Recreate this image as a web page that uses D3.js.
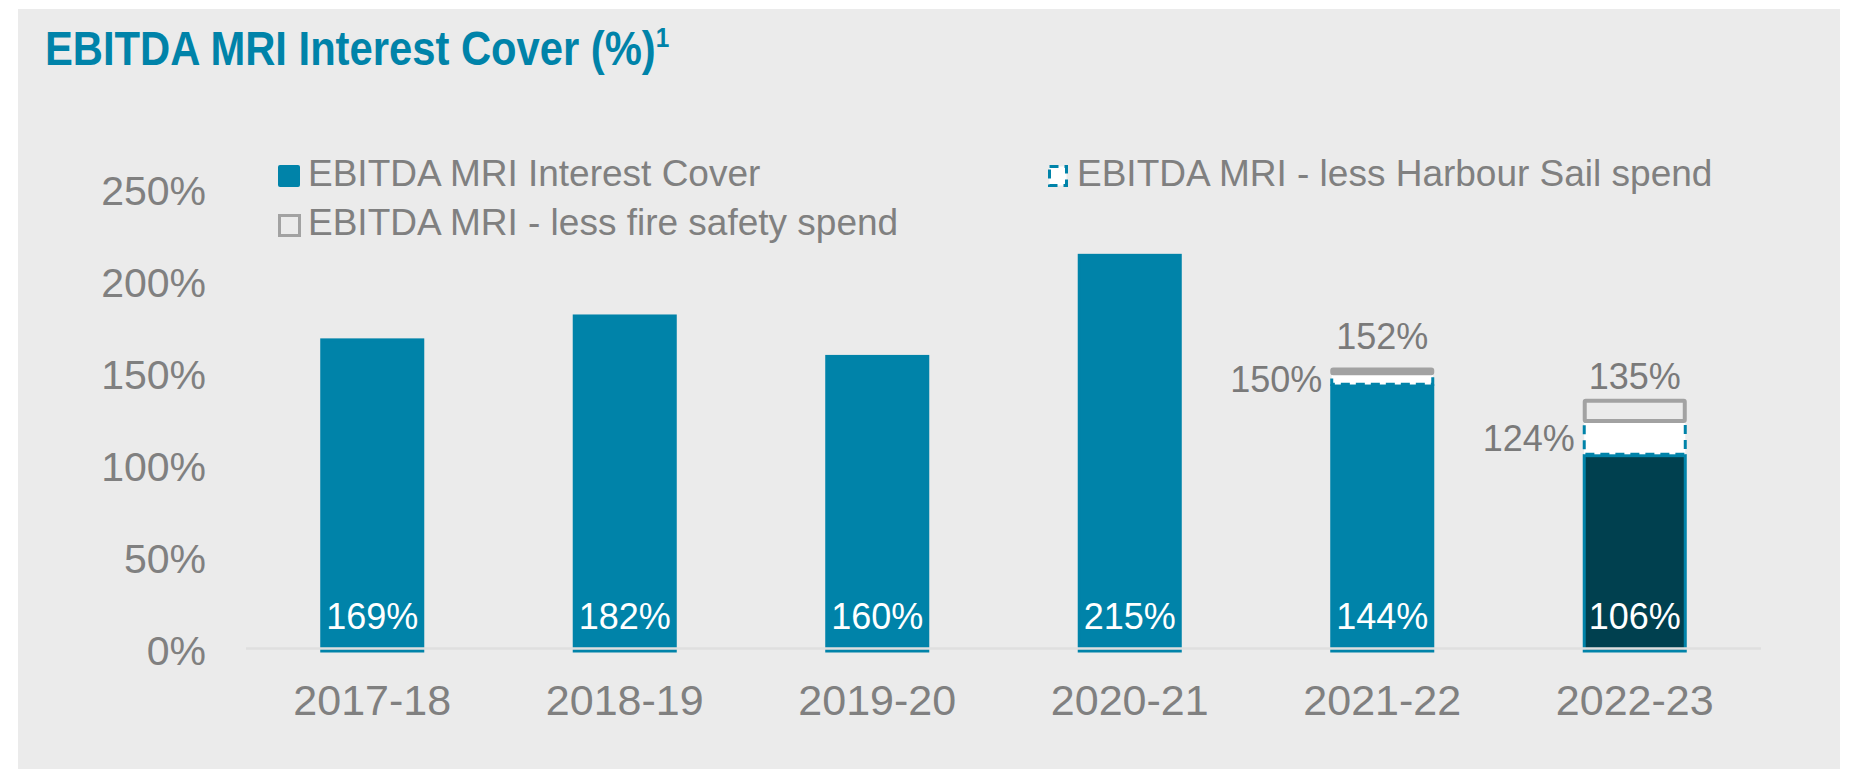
<!DOCTYPE html>
<html>
<head>
<meta charset="utf-8">
<script src="https://cdn.jsdelivr.net/npm/d3@7"></script>
<style>
  body { margin: 0; background: #fff; }
  svg { display: block; font-family: "Liberation Sans", Arial, sans-serif; }
</style>
</head>
<body>
<svg id="chart"></svg>
<script>
// values
const years = ["2017-18", "2018-19", "2019-20", "2020-21", "2021-22", "2022-23"];
const cover = [169, 182, 160, 215, 144, 106];
const lessHarbour = [null, null, null, null, 150, 124];
const lessFire = [null, null, null, null, 152, 135];
const yTicks = [0, 50, 100, 150, 200, 250];
const legendNames = ["EBITDA MRI Interest Cover", "EBITDA MRI - less fire safety spend", "EBITDA MRI - less Harbour Sail spend"];

const width = 1859, height = 772;
const teal = "#0083a9", dark = "#00404f", grey = "#808080", outline = "#a2a2a2", bg = "#ebebeb";

const svg = d3.select("#chart").attr("width", width).attr("height", height);

svg.append("rect").attr("x", 18).attr("y", 9).attr("width", 1822).attr("height", 760).attr("fill", bg);

// title (slightly condensed like the original)
const title = svg.append("text").attr("transform", "translate(45,65) scale(0.87,1)")
  .attr("fill", teal).style("font-weight", "bold").style("font-size", "48px")
  .text("EBITDA MRI Interest Cover (%)");
title.append("tspan").attr("dy", -18).style("font-size", "28px").text("1");

const x = d3.scaleBand().domain(years).range([246, 1761]).paddingInner(0.588).paddingOuter(0.294);
const y = d3.scaleLinear().domain([0, 250]).range([649, 189.5]);

// y axis
const yAxis = svg.append("g").attr("transform", "translate(206,2)")
  .call(d3.axisLeft(y).tickValues(yTicks).tickSize(0).tickPadding(0).tickFormat(d => d + "%"));
yAxis.select(".domain").remove();
yAxis.selectAll("text").attr("fill", grey).style("font-size", "41px").style("font-family", "Liberation Sans, Arial, sans-serif");

// x axis
const xAxis = svg.append("g").attr("transform", "translate(0,649)")
  .call(d3.axisBottom(x).tickSize(0).tickPadding(35));
xAxis.select(".domain").remove();
xAxis.selectAll("text").attr("fill", grey).style("font-size", "43px").style("font-family", "Liberation Sans, Arial, sans-serif");

// main bars
const bw = x.bandwidth();
svg.selectAll("rect.bar").data(cover).enter().append("rect")
  .attr("class", "bar")
  .attr("x", (d, i) => x(years[i]) + 1.5)
  .attr("y", d => y(d) + 1.5)
  .attr("width", bw - 3)
  .attr("height", d => y(0) - y(d) + 0.5)
  .attr("fill", (d, i) => i == years.length - 1 ? dark : teal)
  .attr("stroke", teal).attr("stroke-width", 3);

// baseline
svg.append("line").attr("x1", 246).attr("x2", 1761).attr("y1", 648.5).attr("y2", 648.5)
  .attr("stroke", "#dfdfdf").attr("stroke-width", 2.5);

// harbour sail segments
const idx = years.map((d, i) => i).filter(i => lessHarbour[i] != null);
svg.selectAll("rect.harbour").data(idx).enter().append("rect")
  .attr("class", "harbour")
  .attr("x", i => x(years[i]) + 1.5)
  .attr("y", i => y(lessHarbour[i]))
  .attr("width", bw - 3)
  .attr("height", i => y(cover[i]) - y(lessHarbour[i]))
  .attr("fill", "#fff")
  .attr("stroke", teal).attr("stroke-width", 3).attr("stroke-dasharray", "9,6");

// fire safety segments
svg.selectAll("rect.fire").data(idx).enter().append("rect")
  .attr("class", "fire")
  .attr("x", i => x(years[i]) + 2)
  .attr("y", i => y(lessFire[i]))
  .attr("width", bw - 4)
  .attr("height", i => y(lessHarbour[i]) - y(lessFire[i]))
  .attr("fill", "none")
  .attr("stroke", outline).attr("stroke-width", 4).attr("rx", 1);

// value labels inside bars
svg.selectAll("text.val").data(cover).enter().append("text")
  .attr("class", "val")
  .attr("x", (d, i) => x(years[i]) + bw / 2)
  .attr("y", 629)
  .attr("text-anchor", "middle")
  .attr("fill", "#fff").style("font-size", "36px")
  .text(d => d + "%");

// harbour labels to the left
svg.selectAll("text.hl").data(idx).enter().append("text")
  .attr("class", "hl")
  .attr("x", i => x(years[i]) - 8)
  .attr("y", i => (y(lessHarbour[i]) + y(cover[i])) / 2)
  .attr("dy", "0.36em")
  .attr("text-anchor", "end")
  .attr("fill", "#7a7a7a").style("font-size", "36px")
  .text(i => lessHarbour[i] + "%");

// fire labels above
svg.selectAll("text.fl").data(idx).enter().append("text")
  .attr("class", "fl")
  .attr("x", i => x(years[i]) + bw / 2)
  .attr("y", i => (y(lessFire[i]) + y(lessHarbour[i])) / 2 - 22)
  .attr("text-anchor", "middle")
  .attr("fill", "#7a7a7a").style("font-size", "36px")
  .text(i => lessFire[i] + "%");

// legend
const legendPos = [[278, 165], [278, 214], [1048, 165]];
const lg = svg.selectAll("g.leg").data(legendNames).enter().append("g")
  .attr("class", "leg")
  .attr("transform", (d, i) => `translate(${legendPos[i][0]},${legendPos[i][1]})`);
lg.append("text").attr("x", (d, i) => i == 2 ? 29 : 30).attr("y", 21)
  .attr("fill", grey).style("font-size", "37px").text(d => d);

lg.filter((d, i) => i == 0).append("rect")
  .attr("width", 22).attr("height", 22).attr("rx", 2).attr("fill", teal);
lg.filter((d, i) => i == 1).append("rect")
  .attr("x", 1.5).attr("y", 1.5).attr("width", 20).attr("height", 20)
  .attr("fill", bg).attr("stroke", outline).attr("stroke-width", 3);
lg.filter((d, i) => i == 2).append("rect")
  .attr("x", 1.5).attr("y", 1.5).attr("width", 17).attr("height", 19)
  .attr("fill", "#fff").attr("stroke", teal).attr("stroke-width", 3).attr("stroke-dasharray", "9,6");
</script>
</body>
</html>
